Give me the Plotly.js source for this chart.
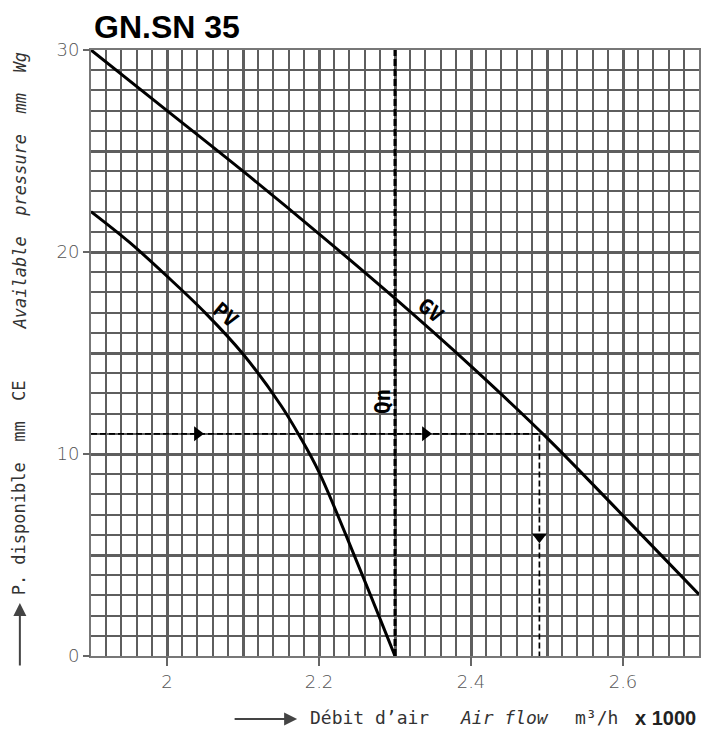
<!DOCTYPE html>
<html>
<head>
<meta charset="utf-8">
<script src="https://cdn.plot.ly/plotly-3.0.1.min.js"></script>
<style>html,body{margin:0;padding:0;background:#fff;}#chart{width:701px;height:731px;}</style>
</head>
<body>
<div id="chart"></div>
<script>
// ---- data ----
const flowPV  = [1.90, 1.95, 2.00, 2.05, 2.10, 2.15, 2.175, 2.20, 2.25, 2.30];
const pressPV = [22.0, 20.5, 18.8, 17.0, 14.95, 12.4, 10.85, 9.1, 4.65, 0.0];

const flowGV  = [1.90, 2.00, 2.10, 2.20, 2.30, 2.40, 2.50, 2.60, 2.70];
const pressGV = [30.0, 27.0, 24.0, 20.9, 17.7, 14.35, 10.8, 6.95, 3.05];

const qnFlow = [2.30, 2.30];
const qnPress = [0, 30];

const guideFlow  = [1.90, 2.49, 2.49];
const guidePress = [11, 11, 0];

const arrowRightFlow  = [2.04, 2.34];
const arrowRightPress = [11, 11];
const arrowDownFlow  = [2.49];
const arrowDownPress = [5.9];

const xTickVals = [2.0, 2.2, 2.4, 2.6];
const xTickText = ['2', '2.2', '2.4', '2.6'];
const yTickVals = [0, 10, 20, 30];
const yTickText = ['0', '10', '20', '30'];

const xRange = [1.9, 2.7];
const yRange = [0, 30];

// ---- traces ----
const traces = [
  {x: flowPV, y: pressPV, mode: 'lines', line: {color: '#000', width: 3, shape: 'spline', smoothing: 1}, hoverinfo: 'skip'},
  {x: flowGV, y: pressGV, mode: 'lines', line: {color: '#000', width: 3, shape: 'spline', smoothing: 1}, hoverinfo: 'skip'},
  {x: qnFlow, y: qnPress, mode: 'lines', line: {color: '#000', width: 3, dash: '7px,3px'}, hoverinfo: 'skip'},
  {x: guideFlow, y: guidePress, mode: 'lines', line: {color: '#000', width: 1.7, dash: '6px,3px'}, hoverinfo: 'skip'},
  {x: arrowRightFlow, y: arrowRightPress, mode: 'markers', marker: {symbol: 'triangle-right', size: 13, color: '#000'}, hoverinfo: 'skip'},
  {x: arrowDownFlow, y: arrowDownPress, mode: 'markers', marker: {symbol: 'triangle-down', size: 13, color: '#000'}, hoverinfo: 'skip'},
  {x: [null], y: [null], xaxis: 'x2', yaxis: 'y2', mode: 'markers', hoverinfo: 'skip'}
];

const gridCol = '#5e5e5e';
const tickFont = {family: 'DejaVu Sans, Liberation Sans, sans-serif', size: 18, color: '#555', weight: 300};
const monoFam = 'DejaVu Sans Mono, Liberation Mono, monospace';
const monoFont = {family: monoFam, size: 18, color: '#333'};
const labelFont = {family: monoFam, size: 21, color: '#000'};

const layout = {
  width: 701, height: 731,
  margin: {l: 91, r: 2, t: 50, b: 75, pad: 0},
  paper_bgcolor: '#fff', plot_bgcolor: '#fff',
  showlegend: false,
  title: {
    text: '<b>GN.SN 35</b>',
    font: {family: 'Liberation Sans, Arial, sans-serif', size: 32, color: '#000'},
    x: 0.005, xref: 'paper', xanchor: 'left',
    y: 0.964, yref: 'container', yanchor: 'middle'
  },
  xaxis: {
    range: xRange, tickmode: 'linear', tick0: 1.9, dtick: 0.1,
    showgrid: true, gridcolor: gridCol, gridwidth: 3,
    minor: {tickmode: 'linear', tick0: 1.9, dtick: 0.02, showgrid: true, gridcolor: gridCol, gridwidth: 2},
    showticklabels: false, ticks: '', zeroline: false,
    showline: true, linecolor: '#777', linewidth: 2, mirror: true
  },
  yaxis: {
    range: yRange, tickmode: 'linear', tick0: 0, dtick: 5,
    showgrid: true, gridcolor: gridCol, gridwidth: 3,
    minor: {tickmode: 'linear', tick0: 0, dtick: 1, showgrid: true, gridcolor: gridCol, gridwidth: 2},
    showticklabels: false, ticks: '', zeroline: false,
    showline: true, linecolor: '#777', linewidth: 2, mirror: true
  },
  xaxis2: {
    range: xRange, overlaying: 'x', anchor: 'y2', side: 'bottom',
    tickmode: 'array', tickvals: xTickVals, ticktext: xTickText,
    ticks: 'outside', ticklen: 9, tickwidth: 2, tickcolor: '#666',
    showgrid: false, zeroline: false, showline: false,
    tickfont: tickFont
  },
  yaxis2: {
    range: yRange, overlaying: 'y', anchor: 'x2', side: 'left',
    tickmode: 'array', tickvals: yTickVals, ticktext: yTickText,
    ticks: 'outside', ticklen: 7, tickwidth: 2, tickcolor: '#666',
    showgrid: false, zeroline: false, showline: false,
    tickfont: tickFont
  },
  annotations: [
    // curve labels
    {x: 2.077, y: 16.9, xref: 'x', yref: 'y', text: '<b>PV</b>', showarrow: false, textangle: 40, font: labelFont},
    {x: 2.348, y: 17.1, xref: 'x', yref: 'y', text: '<b>GV</b>', showarrow: false, textangle: 38, font: labelFont},
    {x: 2.285, y: 12.6, xref: 'x', yref: 'y', text: '<b>Qn</b>', showarrow: false, textangle: -90, font: labelFont},
    // x-axis title pieces
    {x: 0.339, y: -0.104, xref: 'paper', yref: 'paper', text: '', showarrow: true,
     ax: -64, ay: 0, arrowhead: 2, arrowsize: 1.3, arrowwidth: 2, arrowcolor: '#444'},
    {x: 0.3575, y: -0.102, xref: 'paper', yref: 'paper', xanchor: 'left', yanchor: 'middle',
     text: 'Débit d\u2019air', showarrow: false, font: monoFont},
    {x: 0.6030, y: -0.102, xref: 'paper', yref: 'paper', xanchor: 'left', yanchor: 'middle',
     text: '<i>Air flow</i>', showarrow: false, font: monoFont},
    {x: 0.7924, y: -0.102, xref: 'paper', yref: 'paper', xanchor: 'left', yanchor: 'middle',
     text: 'm³/h', showarrow: false, font: monoFont},
    {x: 0.9984, y: -0.102, xref: 'paper', yref: 'paper', xanchor: 'right', yanchor: 'middle',
     text: '<b>x 1000</b>', showarrow: false, font: {family: 'Liberation Sans, Arial, sans-serif', size: 20, color: '#222'}},
    // y-axis title pieces
    {x: -0.117, y: 0.0875, xref: 'paper', yref: 'paper', text: '', showarrow: true,
     ax: 0, ay: 64, arrowhead: 2, arrowsize: 1.3, arrowwidth: 2, arrowcolor: '#444'},
    {x: -0.117, y: 0.0974, xref: 'paper', yref: 'paper', xanchor: 'center', yanchor: 'bottom', textangle: -90,
     text: 'P. disponible  mm  CE', showarrow: false, font: {family: monoFam, size: 17, color: '#333'}},
    {x: -0.117, y: 1.0, xref: 'paper', yref: 'paper', xanchor: 'center', yanchor: 'top', textangle: -90,
     text: '<i>Available  pressure  mm  Wg</i>', showarrow: false, font: {family: monoFam, size: 17, color: '#333'}}
  ]
};

Plotly.newPlot('chart', traces, layout, {displayModeBar: false, staticPlot: true});
</script>
</body>
</html>
